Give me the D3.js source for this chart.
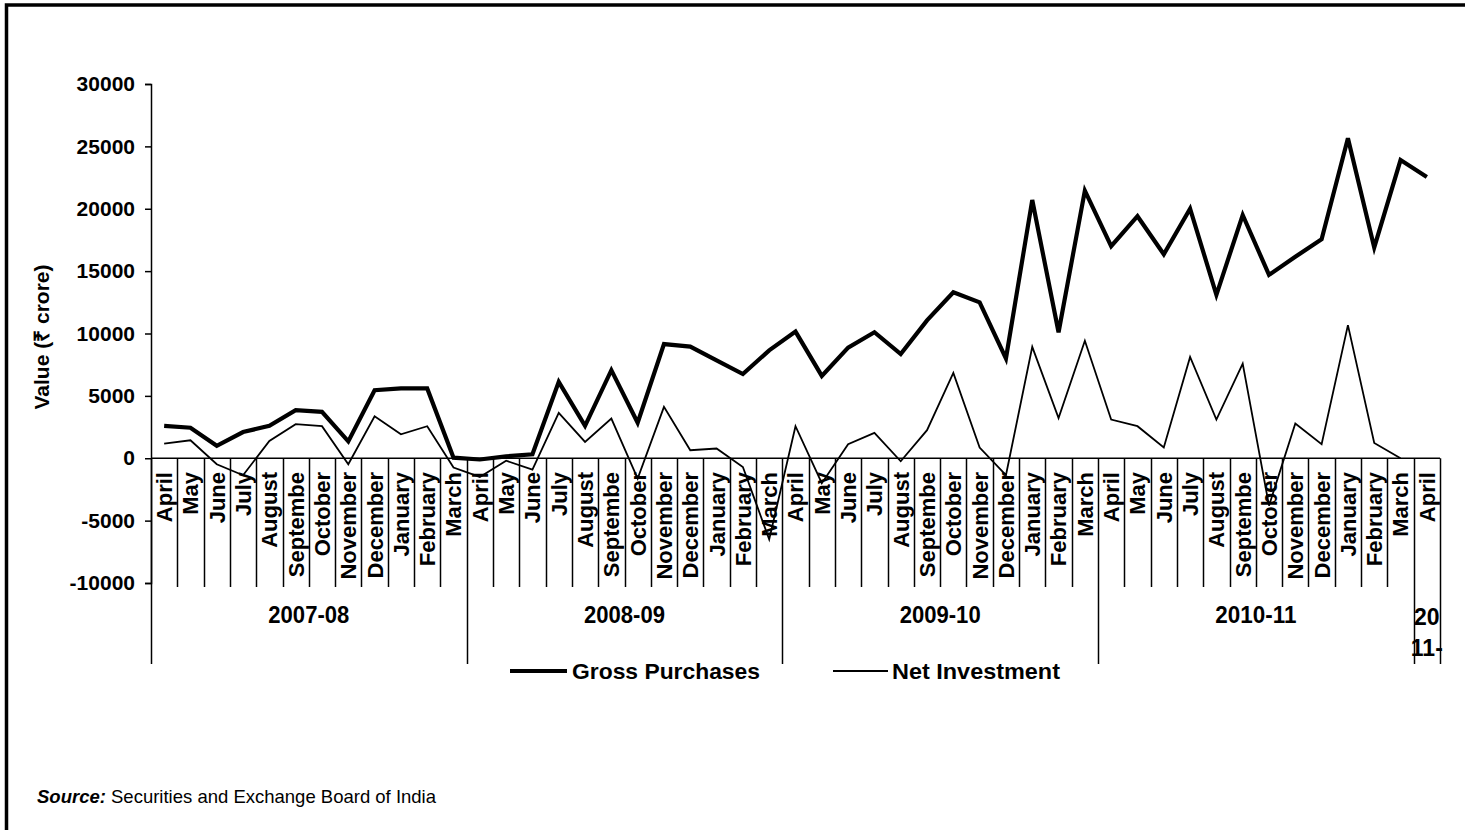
<!DOCTYPE html>
<html>
<head>
<meta charset="utf-8">
<script src="https://cdn.jsdelivr.net/npm/d3@7/dist/d3.min.js"></script>
<style>
  html, body { margin: 0; padding: 0; background: #fff; }
  svg { display: block; }
  text { font-family: "Liberation Sans", Arial, sans-serif; fill: #000; }
</style>
</head>
<body>
<svg id="chart" width="1465" height="830"></svg>
<script>
// ---- Data ----
const fiscalYears = ["2007-08", "2008-09", "2009-10", "2010-11", "2011-12"];
const monthLabels = [
  "April","May","June","July","August","Septembe","October","November","December","January","February","March",
  "April","May","June","July","August","Septembe","October","November","December","January","February","March",
  "April","May","June","July","August","Septembe","October","November","December","January","February","March",
  "April","May","June","July","August","Septembe","October","November","December","January","February","March",
  "April"
];
const monthYear = [
  0,0,0,0,0,0,0,0,0,0,0,0,
  1,1,1,1,1,1,1,1,1,1,1,1,
  2,2,2,2,2,2,2,2,2,2,2,2,
  3,3,3,3,3,3,3,3,3,3,3,3,
  4
];
const grossPurchases = [
  2600, 2450, 1000, 2100, 2600, 3850, 3720, 1350, 5450, 5600, 5600, 50,
  -100, 150, 320, 6120, 2600, 7060, 2850, 9150, 8950, 7850, 6750, 8650,
  10150, 6600, 8870, 10100, 8350, 11050, 13300, 12500, 8000, 20700, 10100, 21450,
  17000, 19400, 16350, 20000, 13100, 19500, 14700, 16150, 17550, 25650, 16900, 23900,
  22550
];
const netInvestment = [
  1180, 1440, -480, -1360, 1390, 2730, 2570, -480, 3370, 1920, 2570, -750,
  -1500, -200, -910, 3630, 1310, 3180, -1630, 4120, 640, 780, -700, -6500,
  2570, -2000, 1120, 2030, -240, 2250, 6840, 860, -1360, 8930, 3230, 9420,
  3100, 2570, 860, 8120, 3100, 7590, -3800, 2780, 1120, 10670, 1230, 0,
  null
];
const yTicks = [-10000, -5000, 0, 5000, 10000, 15000, 20000, 25000, 30000];
const seriesNames = ["Gross Purchases", "Net Investment"];

// ---- Layout ----
const svg = d3.select("#chart");
const plotLeft = 151, plotRight = 1440, yTop = 84, yBottom = 583;
const idx = d3.range(monthLabels.length);

const x = d3.scaleBand().domain(idx).range([plotLeft, plotRight]).padding(0);
const y = d3.scaleLinear().domain([-10000, 30000]).range([yBottom, yTop]);
const cx = i => x(i) + x.bandwidth() / 2;

// frame
svg.append("path")
  .attr("d", `M6.5,840 L6.5,5 L1470,5`)
  .attr("fill", "none").attr("stroke", "#000").attr("stroke-width", 3.5);

// y axis
const yAxis = d3.axisLeft(y).tickValues(yTicks).tickSize(6).tickPadding(10).tickFormat(d => String(d));
const gy = svg.append("g").attr("transform", `translate(${plotLeft},0)`).call(yAxis);
gy.select(".domain").attr("stroke", "#000").attr("stroke-width", 1.5);
gy.selectAll(".tick line").attr("stroke", "#000").attr("stroke-width", 1.5);
gy.selectAll(".tick text")
  .style("font-family", '"Liberation Sans", Arial, sans-serif')
  .style("font-size", "21px").style("font-weight", "bold").attr("fill", "#000");

// y title
svg.append("text")
  .attr("transform", `translate(49,337) rotate(-90)`)
  .attr("text-anchor", "middle")
  .style("font-size", "21px").style("font-weight", "bold")
  .text("Value (\u20B9 crore)");

// x axis baseline at zero
svg.append("line")
  .attr("x1", plotLeft).attr("x2", plotRight)
  .attr("y1", y(0)).attr("y2", y(0))
  .attr("stroke", "#000").attr("stroke-width", 1.5);

// month separators
const monthTickBottom = 587, yearTickBottom = 664;
const boundaries = d3.range(monthLabels.length + 1).map(i => i < monthLabels.length ? x(i) : plotRight);
boundaries.forEach((bx, i) => {
  const isYear = i === 0 || i === monthLabels.length || monthYear[i] !== monthYear[i - 1];
  svg.append("line")
    .attr("x1", Math.round(bx) + 0.5).attr("x2", Math.round(bx) + 0.5)
    .attr("y1", y(0)).attr("y2", isYear ? yearTickBottom : monthTickBottom)
    .attr("stroke", "#000").attr("stroke-width", 1.5);
});

// month labels
svg.append("g").selectAll("text").data(idx).join("text")
  .attr("transform", i => `translate(${cx(i)},472) rotate(-90)`)
  .attr("text-anchor", "end")
  .attr("dy", "0.36em")
  .style("font-size", "22px").style("font-weight", "bold")
  .text(i => monthLabels[i]);

// fiscal year labels
fiscalYears.forEach((fy, k) => {
  const members = idx.filter(i => monthYear[i] === k);
  const x0 = x(members[0]);
  const x1 = x(members[members.length - 1]) + x.bandwidth();
  const mid = (x0 + x1) / 2;
  if (members.length > 1) {
    svg.append("text")
      .attr("x", mid).attr("y", 623)
      .attr("text-anchor", "middle")
      .attr("textLength", 81).attr("lengthAdjust", "spacingAndGlyphs")
      .style("font-family", '"Liberation Sans Narrow", "Arial Narrow", "Liberation Sans", sans-serif')
      .style("font-size", "23px").style("font-weight", "bold")
      .text(fy);
  } else {
    const parts = [fy.slice(0, 2), fy.slice(2, 5)];
    parts.forEach((p, j) => {
      svg.append("text")
        .attr("x", mid).attr("y", 625 + j * 31)
        .attr("text-anchor", "middle")
        .style("font-family", '"Liberation Sans Narrow", "Arial Narrow", "Liberation Sans", sans-serif')
        .style("font-size", "23px").style("font-weight", "bold")
        .text(p);
    });
  }
});

// lines
const lineGen = d3.line()
  .defined(d => d.v !== null)
  .x(d => cx(d.i)).y(d => y(d.v));

svg.append("path")
  .datum(grossPurchases.map((v, i) => ({ i, v })))
  .attr("d", lineGen)
  .attr("fill", "none").attr("stroke", "#000").attr("stroke-width", 4.2)
  .attr("stroke-linejoin", "miter");

svg.append("path")
  .datum(netInvestment.map((v, i) => ({ i, v })))
  .attr("d", lineGen)
  .attr("fill", "none").attr("stroke", "#000").attr("stroke-width", 1.8)
  .attr("stroke-linejoin", "miter");

// legend
const legend = [
  { name: seriesNames[0], x1: 510, x2: 567, tx: 572, w: 4.2, len: 188 },
  { name: seriesNames[1], x1: 833, x2: 888, tx: 892, w: 1.8, len: 168 }
];
legend.forEach(l => {
  svg.append("line").attr("x1", l.x1).attr("x2", l.x2).attr("y1", 671).attr("y2", 671)
    .attr("stroke", "#000").attr("stroke-width", l.w);
  svg.append("text").attr("x", l.tx).attr("y", 679)
    .attr("textLength", l.len).attr("lengthAdjust", "spacingAndGlyphs")
    .style("font-family", '"Liberation Sans Narrow", "Arial Narrow", "Liberation Sans", sans-serif')
    .style("font-size", "22px").style("font-weight", "bold")
    .text(l.name);
});

// source
const src = svg.append("text").attr("x", 37).attr("y", 803).style("font-size", "18.5px");
src.append("tspan").style("font-weight", "bold").style("font-style", "italic").text("Source:");
src.append("tspan").text(" Securities and Exchange Board of India");
</script>
</body>
</html>
